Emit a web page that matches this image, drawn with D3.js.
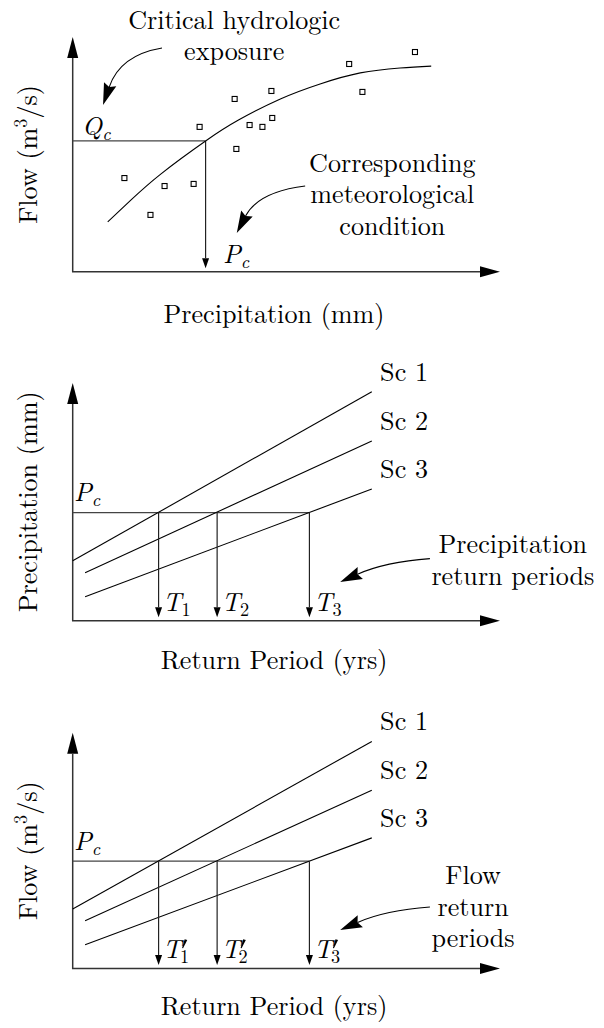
<!DOCTYPE html>
<html>
<head>
<meta charset="utf-8">
<script src="https://cdn.jsdelivr.net/npm/d3@7"></script>
<style>
  html, body { margin: 0; padding: 0; background: #fff; }
  svg { display: block; }
</style>
</head>
<body>
<svg id="chart" width="604" height="1028"></svg>
<script>
// ---- data (arbitrary units) ----
// Panel 1: observed flow vs precipitation
const obsPrecip = [12.1, 18.2, 21.5, 28.3, 29.7, 37.9, 38.3, 41.4, 44.4, 46.5, 46.7, 64.7, 67.8, 80.1];
const obsFlow   = [39.9, 24.2, 36.5, 37.4, 61.7, 73.6, 52.3, 62.5, 61.7, 77.0, 65.5, 88.5, 76.6, 93.6];
// fitted relation
const fitPrecip = [8.2, 13.6, 20.6, 31.1, 38.9, 48.6, 57.9, 67.3, 76.6, 83.9];
const fitFlow   = [21.2, 30.5, 41.6, 55.7, 64.7, 73.6, 80.0, 84.7, 86.8, 87.6];
const criticalFlow = 55.7;    // Q_c
const criticalPrecip = 31.1;  // P_c

// Panels 2 & 3: scenario lines against return period
const scenarios = ['Sc 1', 'Sc 2', 'Sc 3'];
const periodStart = [0, 2.9, 2.9];
const periodEnd   = [70, 70, 70];
const precipStart = [25.2, 20.2, 10.1];
const precipEnd   = [96.3, 75.6, 55.4];
const precipPeriods = [20.1, 33.8, 55.4];   // T1..T3
const flowStart = [25.2, 20.2, 10.1];
const flowEnd   = [96.3, 75.6, 55.4];
const flowPeriods = [20.1, 33.8, 55.4];     // T'1..T'3
const thresholdLevel = 45.5;

// ---- layout ----
const svg = d3.select('#chart')
    .style('font-family', '"Latin Modern Roman", "Liberation Serif", "Times New Roman", serif');

// size the font so "Critical hydrologic" spans ~212px
const probe = svg.append('text').attr('font-size', 27).text('Critical hydrologic');
const FS = Math.min(28, 27 * 212 / probe.node().getComputedTextLength());
probe.remove();
const SUB = FS * 0.7;

const axisLeft = 72.7, axisRight = 500;
const frames = [
    { top: 37,    bottom: 271.7, xLabelY: 323 },
    { top: 383,   bottom: 620.7, xLabelY: 669 },
    { top: 732.7, bottom: 968.5, xLabelY: 1015 }
];

function makeScales(f) {
    return {
        x: d3.scaleLinear().domain([0, 100]).range([axisLeft, axisRight]),
        y: d3.scaleLinear().domain([0, 100]).range([f.bottom, f.top])
    };
}

// filled arrow head, returns the point where the shaft should stop
function head(g, tip, from, len, half, notch = 0) {
    const a = Math.atan2(tip[1] - from[1], tip[0] - from[0]);
    const c = Math.cos(a), s = Math.sin(a);
    const bx = tip[0] - c * len, by = tip[1] - s * len;
    const pts = [
        tip,
        [bx - s * half, by + c * half],
        [bx + c * notch, by + s * notch],
        [bx + s * half, by - c * half]
    ];
    g.append('path').attr('d', d3.line()(pts) + 'Z').attr('fill', '#000');
    return [bx + c * notch, by + s * notch];
}

function drawAxes(g, sc) {
    const o = [sc.x(0), sc.y(0)];
    const yEnd = head(g, [sc.x(0), sc.y(100)], o, 21, 5.5);
    const xEnd = head(g, [sc.x(100), sc.y(0)], o, 20, 5.5);
    g.append('path')
        .attr('d', d3.line()([yEnd, o, xEnd]))
        .attr('fill', 'none').attr('stroke', '#333').attr('stroke-width', 1.5);
}

function dropArrow(g, sc, xv, yv) {
    const from = [sc.x(xv), sc.y(yv)];
    const end = head(g, [sc.x(xv), sc.y(1.5)], from, 10, 3.5);
    g.append('line')
        .attr('x1', from[0]).attr('y1', from[1]).attr('x2', end[0]).attr('y2', end[1])
        .attr('stroke', '#222').attr('stroke-width', 1.2);
}

function threshold(g, sc, xv, yv) {
    g.append('line')
        .attr('x1', sc.x(0)).attr('y1', sc.y(yv)).attr('x2', sc.x(xv)).attr('y2', sc.y(yv))
        .attr('stroke', '#444').attr('stroke-width', 1.3);
}

// curved pointer: [start, control, tip] in data units
function pointer(g, sc, pts) {
    const [s, c, t] = pts.map(p => [sc.x(p[0]), sc.y(p[1])]);
    const end = head(g, t, c, 22, 6.5, 3);
    const p = d3.path();
    p.moveTo(s[0], s[1]);
    p.quadraticCurveTo(c[0], c[1], end[0], end[1]);
    g.append('path').attr('d', p.toString())
        .attr('fill', 'none').attr('stroke', '#000').attr('stroke-width', 1.1);
}

function textBlock(g, sc, xv, yvs, lines) {
    lines.forEach((l, i) => {
        g.append('text').attr('x', sc.x(xv)).attr('y', sc.y(yvs[i]))
            .attr('text-anchor', 'middle').attr('font-size', FS).text(l);
    });
}

// italic symbol with subscript; a prime is drawn as a small wedge
function mathLabel(g, x, y, base, sub, subItalic, prime) {
    const t = g.append('text').attr('x', x).attr('y', y).attr('font-size', FS);
    const b = t.append('tspan').attr('font-style', 'italic').text(base);
    const w = b.node().getComputedTextLength();
    t.append('tspan').attr('font-size', SUB)
        .attr('dx', prime ? -1.5 : 0).attr('dy', 5)
        .attr('font-style', subItalic ? 'italic' : 'normal').text(sub);
    if (prime) {
        const px = x + w + 0.5, py = y - 10;
        g.append('path')
            .attr('d', d3.line()([[px + 2.6, py - 9], [px + 5.2, py - 8.4], [px + 1, py], [px, py - 0.4]]) + 'Z')
            .attr('fill', '#000');
    }
}

function yLabel(g, f, parts) {
    const t = g.append('text')
        .attr('transform', `translate(37,${(f.top + f.bottom) / 2}) rotate(-90)`)
        .attr('text-anchor', 'middle').attr('font-size', FS);
    parts(t);
}

function xLabel(g, f, label) {
    g.append('text').attr('x', 274).attr('y', f.xLabelY)
        .attr('text-anchor', 'middle').attr('font-size', FS).text(label);
}

function flowUnits(t) {
    t.append('tspan').text('Flow (m');
    t.append('tspan').attr('font-size', SUB).attr('dy', -10).text('3');
    t.append('tspan').attr('dy', 10).text('/s)');
}

// ---- panel 1 ----
{
    const f = frames[0], sc = makeScales(f);
    const g = svg.append('g');
    drawAxes(g, sc);
    threshold(g, sc, criticalPrecip, criticalFlow);
    dropArrow(g, sc, criticalPrecip, criticalFlow);

    g.append('path')
        .datum(d3.zip(fitPrecip, fitFlow))
        .attr('d', d3.line().x(d => sc.x(d[0])).y(d => sc.y(d[1])).curve(d3.curveNatural))
        .attr('fill', 'none').attr('stroke', '#000').attr('stroke-width', 1.1);

    g.selectAll('rect.obs')
        .data(d3.zip(obsPrecip, obsFlow))
        .join('rect')
        .attr('class', 'obs')
        .attr('x', d => sc.x(d[0]) - 2.5).attr('y', d => sc.y(d[1]) - 2.5)
        .attr('width', 5).attr('height', 5)
        .attr('fill', '#fff').attr('stroke', '#000').attr('stroke-width', 1.1);

    textBlock(g, sc, 37.8, [103.4, 90.0], ['Critical hydrologic', 'exposure']);
    pointer(g, sc, [[20.9, 95.3], [11.1, 92.3], [7.1, 71.0]]);

    textBlock(g, sc, 74.8, [42.6, 29.2, 15.8], ['Corresponding', 'meteorological', 'condition']);
    pointer(g, sc, [[54.4, 36.5], [43.4, 34.0], [38.4, 16.5]]);

    mathLabel(g, sc.x(2.2), sc.y(58.2), 'Q', 'c', true);
    mathLabel(g, sc.x(35.2), sc.y(3.7), 'P', 'c', true);

    yLabel(g, f, flowUnits);
    xLabel(g, f, 'Precipitation (mm)');
}

// ---- panels 2 and 3 ----
function scenarioPanel(f, starts, ends, periods, primed, note, noteY, noteX, yParts) {
    const sc = makeScales(f);
    const g = svg.append('g');
    drawAxes(g, sc);
    threshold(g, sc, d3.max(periods), thresholdLevel);

    scenarios.forEach((name, i) => {
        g.append('line')
            .attr('x1', sc.x(periodStart[i])).attr('y1', sc.y(starts[i]))
            .attr('x2', sc.x(periodEnd[i])).attr('y2', sc.y(ends[i]))
            .attr('stroke', '#000').attr('stroke-width', 1.1);
        g.append('text')
            .attr('x', sc.x(periodEnd[i]) + 8.3)
            .attr('y', sc.y(ends[i]) - 11)
            .attr('font-size', FS).text(name);
    });

    periods.forEach((p, i) => {
        dropArrow(g, sc, p, thresholdLevel);
        mathLabel(g, sc.x(p + 1.0), sc.y(primed ? 4.3 : 3.9), 'T', String(i + 1), false, primed);
    });

    mathLabel(g, sc.x(0.3), sc.y(50.2), 'P', 'c', true);

    textBlock(g, sc, noteX, noteY, note);
    pointer(g, sc, [[83.6, 26.1], [73.1, 24.7], [62.6, 16.3]]);

    yLabel(g, f, yParts);
    xLabel(g, f, 'Return Period (yrs)');
}

scenarioPanel(frames[1], precipStart, precipEnd, precipPeriods, false,
    ['Precipitation', 'return periods'], [28.5, 15.0], 103.0,
    t => t.text('Precipitation (mm)'));

scenarioPanel(frames[2], flowStart, flowEnd, flowPeriods, true,
    ['Flow', 'return', 'periods'], [35.7, 22.4, 9.1], 93.7,
    flowUnits);
</script>
</body>
</html>
